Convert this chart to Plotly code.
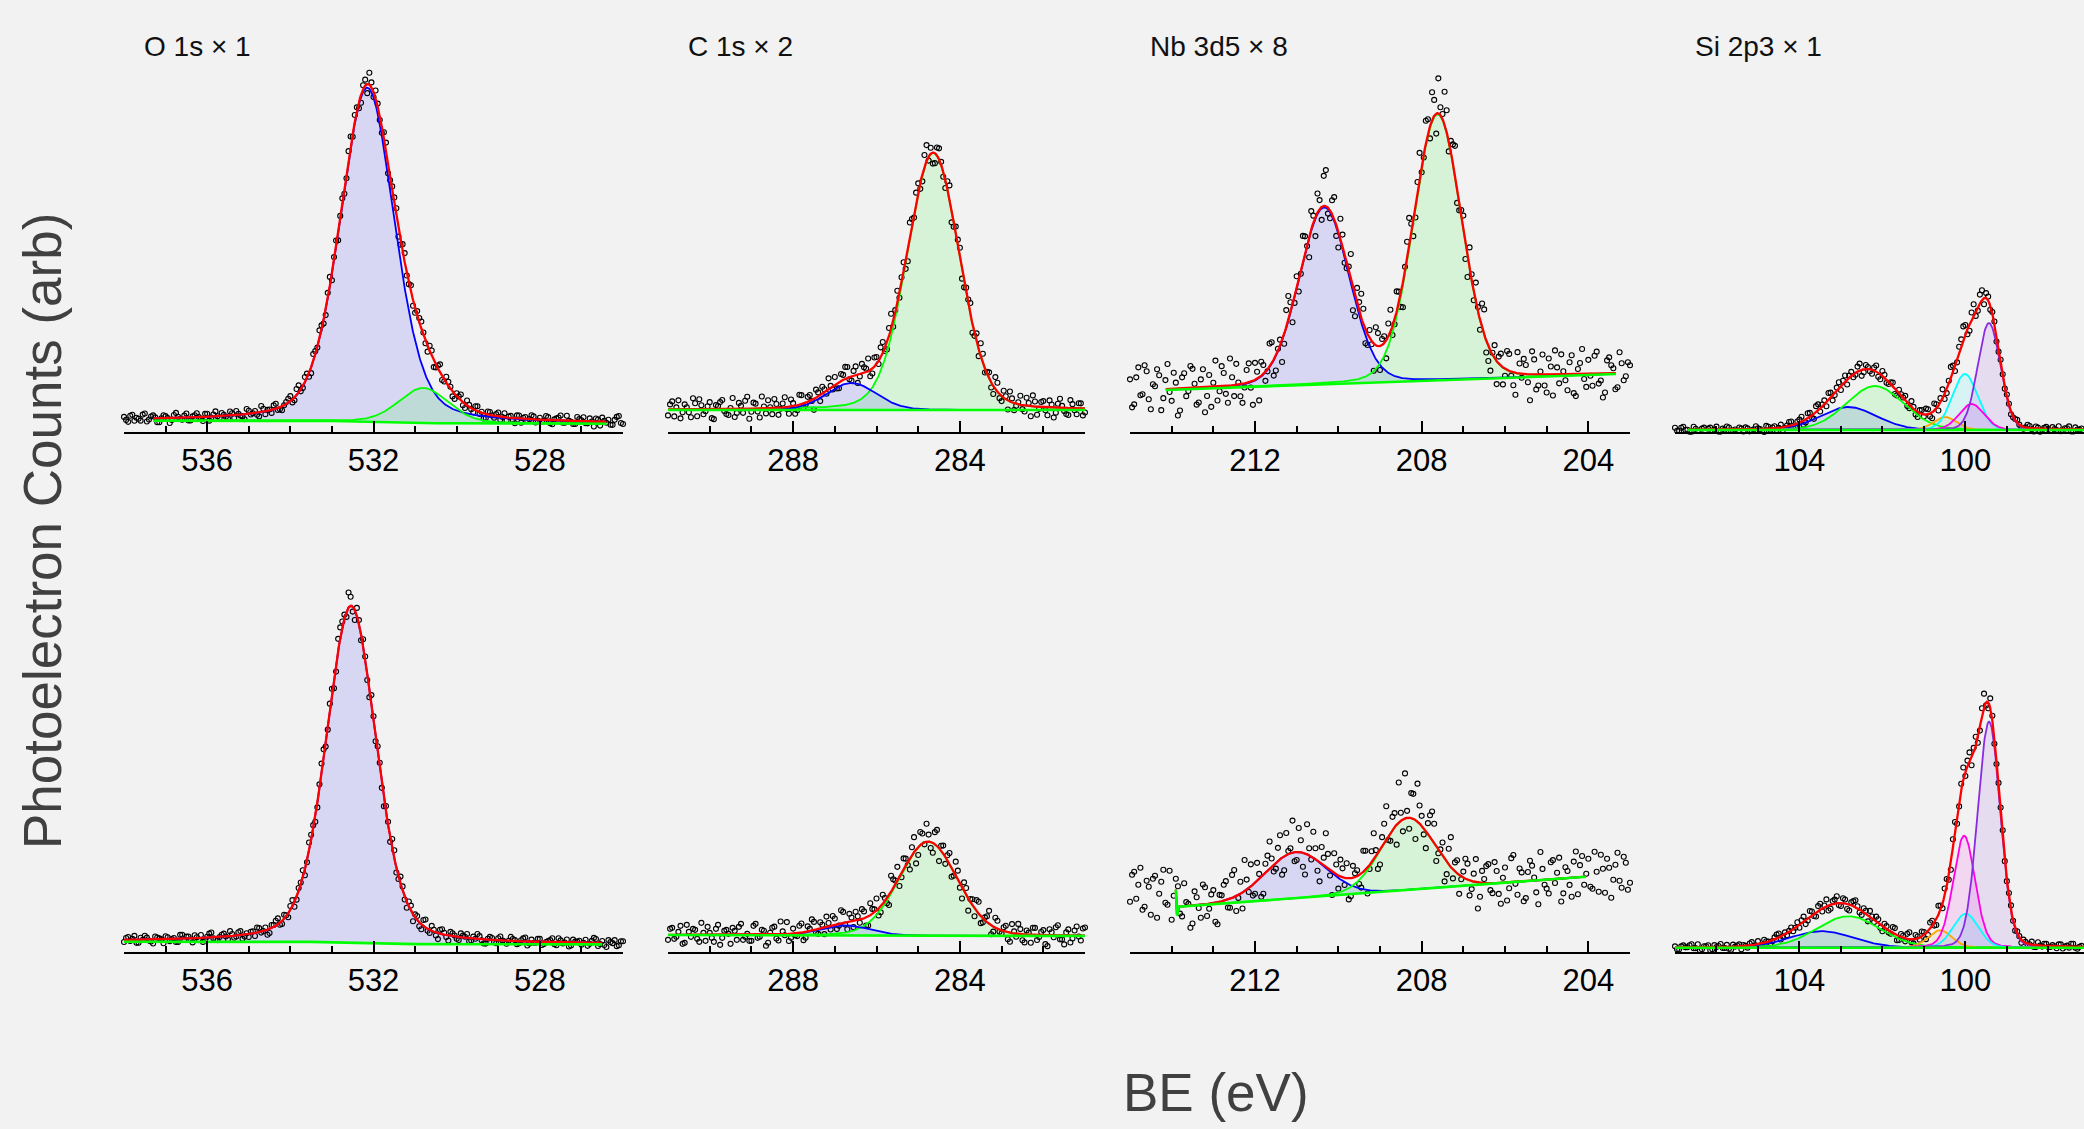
import numpy as np
import plotly.graph_objects as go

# ------------------------------------------------------------------ data
titles = ["O 1s × 1", "C 1s × 2", "Nb 3d5 × 8", "Si 2p3 × 1"]
x_ranges = [(538.0, 526.0), (291.0, 281.0), (215.0, 203.0), (107.0, 97.14)]
step = 0.1   # spacing of each list; the "_mid" lists sit half a step later

# ---- top row ----
O1_center = [532.15, 530.80]
O1_height = [334, 35]
O1_fwhm = [1.55, 1.40]
O1_eta = [0.30, 0.20]
O1_colors = ["blue", "lime"]
O1_bg_E = [537.3, 533.0, 530.5, 526.4]
O1_bg_I = [11.3, 11.0, 8.8, 8.3]
O1_start = 538.0
O1_resid = [2, -3, 4, 1, -2, 5, -1, 3, -4, 0,
            2, -5, 3, 1, -2, 4, -3, 2, 0, -4,
            3, -1, 5, -2, 1, -3, 2, 4, -1, -5,
            3, 0, -2, 6, -3, 1, 4, -2, -4, 2,
            5, -3, 7, -2, 4, -6, 3, 8, -4, 5,
            -7, 6, 2, -5, 9, -3, 4, -8, 6, 12,
            -5, 3, -6, 8, -4, 5, -9, 7, -3, 6,
            -5, 4, 2, -6, 5, -3, 8, -2, 4, -5,
            3, 6, -4, 2, -3, 5, 1, -4, 3, -2,
            4, 0, -3, 2, -5, 3, 1, -2, 4, -3,
            2, -1, 3, -4, 2, 5, -2, 0, -3, 4,
            1, -2, 3, -5, 2, 4, -1, -3, 2, 6,
            -2]
O1_resid_mid = [-1, 3, -2, 0, 4, -3, 2, 1, -4, 3,
                0, -2, 5, -1, 2, -3, 1, 4, -2, 3,
                -4, 2, 0, 3, -1, 4, -3, 1, -2, 5,
                -1, 2, -4, 3, 1, -3, 5, -2, 0, 4,
                -3, 6, -2, 5, -4, 7, -1, 4, -6, 9,
                3, -8, 5, -4, 10, 7, -6, 4, -9, 5,
                8, -4, 6, -10, 3, 7, -5, 9, -2, -6,
                4, 7, -3, 5, -7, 3, -4, 6, 2, -5,
                2, -3, 5, -1, 4, -2, -5, 3, 0, 2,
                -3, 4, 1, -2, 3, -4, 2, 0, 3, -1,
                -2, 4, -3, 1, 3, -2, 5, -1, -3, 2,
                4, -2, 0, 3, -4, 1, 2, -3, 5, -1]

C1_center = [284.64, 286.60]
C1_height = [257, 27]
C1_fwhm = [1.48, 1.40]
C1_eta = [0.15, 0.10]
C1_colors = ["lime", "blue"]
C1_bg_E = [291.0, 281.0]
C1_bg_I = [22, 22]
C1_start = 291.0
C1_resid = [-6, 8, 2, -9, 5, -3, 11, -7, 4, -2,
            7, -10, 3, 9, -5, 1, -8, 6, -4, 12,
            -3, 5, -9, 2, 8, -6, 4, -1, 10, -7,
            3, -5, 9, -2, 6, -11, 4, 7, -3, 2,
            8, -6, 5, 11, -4, 9, -2, 6, 13, -5,
            7, 10, -3, 8, -6, 12, 5, -9, 14, -4,
            9, -7, 16, 6, -10, 11, -5, 8, -12, 7,
            10, -6, 4, -9, 8, 13, -4, 6, -8, 9,
            -5, 3, 10, -7, 2, -4, 8, -10, 5, -2,
            6, -8, 3, -5, 9, -3, -7, 4, -6, 5,
            -4]
C1_resid_mid = [5, -7, 9, -3, 2, -8, 6, 10, -5, 3,
                -9, 4, 7, -2, -6, 11, -4, 3, 8, -10,
                6, -3, 12, -5, 1, 9, -7, 4, -2, 7,
                -8, 10, -4, 5, -1, 8, -6, 3, 11, -3,
                -5, 7, 12, -2, 5, -8, 10, 4, -6, 9,
                -3, 11, -7, 15, 2, -5, 9, -13, 6, 10,
                -6, 12, -4, -11, 8, 3, -8, 14, -5, 6,
                -9, 5, 11, -3, -7, 9, 2, -5, 12, -4,
                7, -9, 4, -2, 9, -6, 3, 11, -8, 5,
                -3, 7, -10, 4, 2, -6, 8, -2, 5, -7]

Nb1_center = [210.34, 207.62]
Nb1_height = [177, 266]
Nb1_fwhm = [1.42, 1.36]
Nb1_eta = [0.10, 0.10]
Nb1_colors = ["blue", "lime"]
Nb1_bg_E = [214.14, 203.34]
Nb1_bg_I = [42, 58]
Nb1_start = 215.0
Nb1_resid = [10, -15, 22, -5, 18, -20, 3, 14, -9, 25,
             -12, 6, -22, 15, -3, 19, -17, 8, -25, 12,
             4, -14, 20, -8, 27, -11, 2, -19, 13, -6,
             17, -23, 9, -2, 21, -15, 6, -10, 24, -18,
             11, -4, 16, -21, 7, 19, -13, 36, -8, 22,
             -16, 12, -5, 26, -20, 9, 15, -11, -3, 18,
             -24, 7, 13, -9, 20, -14, 4, 28, -17, 10,
             -6, 23, -12, 16, 35, 5, 22, 11, 30, -8,
             14, -21, 6, 19, -10, 25, -15, 2, -23, 12,
             -7, 17, -13, 21, -4, 9, -26, 15, -11, 20,
             -18, 8, 24, -9, 3, -16, 19, -22, 11, -5,
             14, -12, 22, -7, -19, 16, 5, -14, 10, -3,
             8]
Nb1_resid_mid = [-18, 12, -6, 24, -10, 5, 20, -21, 9, -3,
                 16, -27, 11, -8, 22, 4, -15, 18, -9, -20,
                 26, -5, 13, -17, 8, 21, -12, -4, 19, -24,
                 7, 14, -9, 23, -16, 2, -22, 17, 10, -7,
                 -13, 25, -2, 18, -19, 9, 30, -6, 14, -11,
                 20, -8, 5, -22, 16, 24, -14, 8, -27, 13,
                 6, -18, 22, -5, 11, -25, 17, 9, -12, 26,
                 -3, 15, 28, -20, 8, 33, -10, 19, -14, 6,
                 -16, 21, -9, 4, 24, -12, -20, 13, 7, -17,
                 19, -4, -22, 10, 15, -8, 23, -15, 3, -11,
                 16, -21, 7, 20, -6, 12, -19, 5, 25, -13,
                 -2, 18, -10, -24, 13, 8, -16, 21, -7, 11]

Si1_center = [102.82, 102.18, 100.49, 100.01, 99.85, 99.43]
Si1_height = [23, 44, 13, 56, 26, 107]
Si1_fwhm = [1.60, 1.62, 0.65, 0.72, 0.72, 0.64]
Si1_eta = [0.10, 0.10, 0.10, 0.10, 0.10, 0.10]
Si1_colors = ["blue", "lime", "orange", "cyan", "magenta", "blueviolet"]
Si1_bg_E = [106.7, 95.0]
Si1_bg_I = [2, 2]
Si1_start = 107.0
Si1_resid = [2, -1, 3, 0, -2, 1, -3, 2, 1, -1,
             3, -2, 0, 2, -1, -3, 1, 2, -2, 0,
             1, -2, 3, -1, 2, 0, -3, 1, 4, -2,
             3, -4, 5, -2, 6, -3, 4, 7, -5, 3,
             -4, 6, 2, -3, 5, -6, 4, -2, 3, -4,
             5, -3, 2, -5, 4, 1, -3, 6, -4, 3,
             -2, 5, -6, 4, 4, -5, 3, 6, -4, 6,
             9, -6, 12, -3, 10, 5, -4, 3, -2, 1,
             2, -3, 1, 0, -2, 3, -1, 2, -3, 1,
             0, 2, -1, -2, 1, 3, -2, 0, 1]
Si1_resid_mid = [-1, 2, 0, -2, 3, -1, 1, -3, 2, 0,
                 -2, 1, 3, -1, 0, 2, -2, 1, -1, 3,
                 0, -3, 2, 1, -2, 3, -1, 4, -3, 2,
                 5, -3, 4, -5, 6, 2, -4, 5, -2, 6,
                 3, -5, 4, -2, 7, -3, 2, -4, 6, -5,
                 3, -2, 4, -4, 2, 5, -3, 2, -5, 4,
                 6, -3, 7, -5, 9, -4, 11, -6, 5, 13,
                 -5, 8, -4, 9, -6, 4, 2, -5, 3, -2,
                 1, -1, 3, -2, 0, 2, -3, 1, -1, 2,
                 -2, 0, 3, -1, 1, -2, 2, 0]

# ---- bottom row ----
O2_center = [532.54]
O2_height = [337]
O2_fwhm = [1.42]
O2_eta = [0.30]
O2_colors = ["blue"]
O2_bg_E = [538.0, 533.5, 531.0, 526.5]
O2_bg_I = [10.0, 9.8, 7.6, 7.3]
O2_start = 538.0
O2_resid = [-2, 3, 1, -3, 2, 4, -1, -4, 2, 0,
            3, -2, 1, -3, 4, 2, -1, 3, -2, -4,
            1, 5, -2, 0, 3, -3, 2, -1, 4, -2,
            -3, 2, 5, -1, 3, -4, 2, 6, -3, 1,
            4, -5, 3, 7, -2, 5, -6, 4, 9, -3,
            6, -7, 11, 4, 15, -5, 8, -6, 3, -8,
            5, 7, -4, 6, -5, 8, -3, 4, -6, 5,
            3, -4, 6, -2, 5, -3, 4, 2, -5, 3,
            -2, 4, 1, -3, 2, 5, -1, -4, 3, -2,
            2, 0, -3, 4, 1, -2, 3, -4, 2, -1,
            3, -2, 1, 4, -3, 2, 0, -4, 3, 1,
            -2, 3, -1, 5, -3, 2, -4, 1, 3, -2,
            2]
O2_resid_mid = [2, -1, 4, -3, 0, 2, -2, 3, 1, -4,
                2, 0, -3, 4, -1, 2, -4, 1, 3, -2,
                4, -1, -3, 2, 0, 5, -2, 3, -4, 1,
                2, -3, 4, 0, -5, 3, 5, -2, 4, -4,
                6, -3, 2, -6, 8, 3, -5, 10, -4, 7,
                -9, 12, 6, -5, 9, -10, 4, 7, -6, 10,
                -4, 6, -8, 3, 9, -5, 7, -3, 5, -7,
                4, -5, 8, -3, 2, -6, 5, -2, 4, 1,
                -3, 2, 4, -2, 0, 3, -4, 1, 2, -3,
                4, -1, 0, 2, -3, 1, 4, -2, -1, 3,
                -3, 0, 2, -2, 4, -1, 3, -3, 1, 2,
                0, -3, 2, 4, -1, -2, 3, 0, -3, 2]

C2_center = [284.76, 286.76]
C2_height = [94, 10]
C2_fwhm = [1.65, 1.40]
C2_eta = [0.10, 0.0]
C2_colors = ["lime", "blue"]
C2_bg_E = [291.0, 281.0]
C2_bg_I = [16.7, 15.7]
C2_start = 291.0
C2_resid = [-5, 7, -2, 9, -8, 3, 6, -4, 12, -6,
            2, -7, 10, -3, 5, -9, 4, 8, -5, 1,
            -6, 11, -2, 4, -8, 7, -4, 13, -1, -7,
            5, -3, 9, -6, 2, 8, -5, 3, 10, -4,
            6, -2, 11, -7, 4, 9, -3, 7, -9, 5,
            12, -6, 3, -10, 9, 14, -4, 7, -11, 15,
            -8, 10, 18, -6, 12, -13, 8, 5, -9, 14,
            -4, 9, -12, 6, 11, -7, 3, 13, -5, 8,
            -3, 6, -9, 2, 10, -6, 4, -8, 7, -2,
            5, -11, 3, 8, -4, -9, 6, -3, 9, -5,
            8]
C2_resid_mid = [6, -4, 3, -9, 10, -2, 5, -7, 2, 8,
                -3, 6, -10, 4, 1, 7, -5, 11, -2, -6,
                9, -3, 5, -11, 2, 8, -6, 3, 12, -4,
                -2, 7, -8, 5, 11, -3, 6, -7, 3, 9,
                -5, 13, -2, 8, -6, 4, 10, -8, 12, 3,
                -7, 9, -5, 16, 4, -9, 11, -3, 8, -14,
                13, -2, 7, -10, 16, 5, -7, 11, -4, 9,
                -11, 7, 3, -8, 12, -4, 6, -9, 10, -2,
                4, -7, 9, -3, 5, -8, 2, 7, -5, 3,
                -9, 6, -2, 10, -4, 3, -7, 5, -1, 7]

Nb2_center = [211.02, 208.33]
Nb2_height = [46, 72]
Nb2_fwhm = [1.70, 1.50]
Nb2_eta = [0.0, 0.0]
Nb2_colors = ["blue", "lime"]
Nb2_bg_E = [213.90, 213.87, 213.83, 204.06]
Nb2_bg_I = [62, 36, 45, 75]
Nb2_start = 215.0
Nb2_resid = [-12, 18, 5, -20, 9, -25, 14, -4, 20, -15,
             -30, 11, -7, 23, 2, -18, 8, -13, 17, -5,
             13, -22, 6, 19, -9, 27, -3, -16, 10, 22,
             -11, 5, -19, 15, 8, -6, 24, -14, 3, 32,
             -8, 12, -21, 7, 26, -10, 17, 34, -5, 20,
             -13, 9, 15, -18, 4, -9, 21, -26, 11, 6,
             -15, 19, -4, 13, -20, 8, 45, -11, 25, 38,
             10, -17, 22, 20, -3, 14, -12, 30, 9, -19,
             6, 16, -8, 23, -14, 4, 19, -10, 12, -21,
             15, -6, 27, -13, 9, -17, 20, 3, -24, 11,
             -9, 17, -4, 21, -15, 7, -19, 26, 12, -8,
             18, -12, 5, 22, -16, 9, -3, 24, -11, 14,
             -6]
Nb2_resid_mid = [15, -9, 22, -17, 3, 11, -28, 8, -13, 19,
                 -6, 25, -10, 4, -22, 14, -3, 20, -12, 9,
                 -19, 7, 16, -8, 23, -15, 12, 31, -4, -11,
                 18, -20, 9, 27, -7, 13, -17, 22, 5, -9,
                 24, -14, 30, -3, 11, -19, 8, 15, -23, 10,
                 17, -7, -21, 12, 6, -14, 19, -4, 26, -16,
                 9, 33, -8, 14, 40, -12, 7, 25, -19, 18,
                 -6, 11, 29, -14, 4, -22, 16, -9, 13, -3,
                 20, -15, 8, -26, 12, 17, -7, 21, -11, 5,
                 -18, 24, -2, 13, -20, 9, 15, -12, 28, -5,
                 -14, 19, 6, -23, 11, -7, 16, -17, 21, 3,
                 -10, 25, -15, 8, 18, -21, 12, -4, 20, -13]

Si2_center = [103.47, 102.82, 100.61, 100.03, 99.99, 99.43]
Si2_height = [16.5, 31.5, 17.5, 112, 34, 226]
Si2_fwhm = [1.80, 1.80, 0.68, 0.62, 0.72, 0.64]
Si2_eta = [0.10, 0.10, 0.10, 0.15, 0.10, 0.10]
Si2_colors = ["blue", "lime", "orange", "magenta", "cyan", "blueviolet"]
Si2_bg_E = [107.0, 95.0]
Si2_bg_I = [4, 4]
Si2_start = 107.0
Si2_resid = [1, -2, 2, 0, 3, -1, -3, 1, 2, -2,
             0, 3, -1, -2, 2, 1, -3, 0, 2, -1,
             3, -2, 1, -3, 2, 4, -1, -2, 3, 0,
             -3, 5, -2, 4, -4, 6, 2, -5, 3, 7,
             -3, 4, -6, 5, 2, -4, 3, 6, -2, 4,
             -5, 3, -2, 6, -4, 2, 5, -3, 4, -2,
             3, -4, 5, -6, 4, 7, -5, 8, -7, 6,
             -4, 10, 5, -6, 8, -3, 10, -5, 3, 6,
             -2, 4, -3, 1, 2, -1, 3, -2, 0, 2,
             -1, 1, -2, 2, 0, -1, 3, -2, 1]
Si2_resid_mid = [-2, 1, 0, 2, -1, 3, -2, 1, -3, 2,
                 1, -1, 2, -3, 0, 2, 1, -2, 3, -1,
                 -2, 3, 0, -1, 4, -3, 2, 1, -2, 4,
                 3, -4, 6, -2, 5, -3, 7, -4, 4, -2,
                 5, -5, 3, 7, -3, 4, -6, 2, 5, -3,
                 4, -2, 6, -5, 3, -3, 7, -4, 2, 5,
                 -6, 6, -3, 9, -5, 7, -8, 10, -4, 12,
                 6, -7, 9, -4, 14, -6, 5, -3, 4, -2,
                 3, -1, 2, -3, 1, 0, -2, 3, -1, 2,
                 -1, 0, 2, -2, 1, 3, -1, 0]

panels = [
    (O1_center, O1_height, O1_fwhm, O1_eta, O1_colors, O1_bg_E, O1_bg_I, O1_start, O1_resid, O1_resid_mid),
    (C1_center, C1_height, C1_fwhm, C1_eta, C1_colors, C1_bg_E, C1_bg_I, C1_start, C1_resid, C1_resid_mid),
    (Nb1_center, Nb1_height, Nb1_fwhm, Nb1_eta, Nb1_colors, Nb1_bg_E, Nb1_bg_I, Nb1_start, Nb1_resid, Nb1_resid_mid),
    (Si1_center, Si1_height, Si1_fwhm, Si1_eta, Si1_colors, Si1_bg_E, Si1_bg_I, Si1_start, Si1_resid, Si1_resid_mid),
    (O2_center, O2_height, O2_fwhm, O2_eta, O2_colors, O2_bg_E, O2_bg_I, O2_start, O2_resid, O2_resid_mid),
    (C2_center, C2_height, C2_fwhm, C2_eta, C2_colors, C2_bg_E, C2_bg_I, C2_start, C2_resid, C2_resid_mid),
    (Nb2_center, Nb2_height, Nb2_fwhm, Nb2_eta, Nb2_colors, Nb2_bg_E, Nb2_bg_I, Nb2_start, Nb2_resid, Nb2_resid_mid),
    (Si2_center, Si2_height, Si2_fwhm, Si2_eta, Si2_colors, Si2_bg_E, Si2_bg_I, Si2_start, Si2_resid, Si2_resid_mid),
]

# ------------------------------------------------------------------ styling / layout
W, H = 2084, 1129
BG = "#f2f2f2"
FONT = "Liberation Sans, Arial, Helvetica, sans-serif"
RGB = {"blue": (0, 0, 255), "lime": (0, 255, 0), "orange": (255, 165, 0),
       "cyan": (0, 255, 255), "magenta": (255, 0, 230), "blueviolet": (138, 43, 226)}

col_px = [(124, 623), (668, 1085), (1130, 1630), (1675, W)]
row_px = [(42, 432), (561.7, 951.7)]   # (top, axis line) in pixels
y_span = 390


def pvoigt(E, c, a, w, eta):
    u = (E - c) / w
    return a * ((1 - eta) * np.exp(-4 * np.log(2) * u ** 2) + eta / (1 + 4 * u ** 2))


def model(E, bgE_s, bgI_s, cen, hgt, fw, eta):
    bg = np.interp(E, bgE_s, bgI_s)
    return bg, [pvoigt(E, c, a, w, e) for c, a, w, e in zip(cen, hgt, fw, eta)]


fig = go.Figure()
layout_axes = {}

for k, (cen, hgt, fw, eta, cols, bgE, bgI, start, resid, resid_mid) in enumerate(panels):
    row, col = divmod(k, 4)
    idx = k + 1
    xa = "x" if idx == 1 else f"x{idx}"
    ya = "y" if idx == 1 else f"y{idx}"

    bgE_a = np.array(bgE, dtype=float)
    bgI_a = np.array(bgI, dtype=float)
    order = np.argsort(bgE_a)
    bgE_s, bgI_s = bgE_a[order], bgI_a[order]

    Ef = np.linspace(bgE_a.max(), bgE_a.min(), 700)
    bgf, comps = model(Ef, bgE_s, bgI_s, cen, hgt, fw, eta)
    env = bgf + np.sum(comps, axis=0)

    # measured points (two interleaved lists, offset by half a step)
    Ea = start - step * np.arange(len(resid))
    Eb = start - step / 2 - step * np.arange(len(resid_mid))
    Ed = np.concatenate([Ea, Eb])
    bgd, cd = model(Ed, bgE_s, bgI_s, cen, hgt, fw, eta)
    Id = bgd + np.sum(cd, axis=0) + np.array(list(resid) + list(resid_mid), dtype=float)

    # component fills
    for comp, cname in zip(comps, cols):
        r, g, b = RGB[cname]
        fig.add_trace(go.Scatter(
            x=np.concatenate([Ef, Ef[::-1]]), y=np.concatenate([bgf + comp, bgf[::-1]]),
            fill="toself", fillcolor=f"rgba({r},{g},{b},0.11)", line=dict(width=0),
            mode="lines", hoverinfo="skip", showlegend=False, xaxis=xa, yaxis=ya))
    # data points
    fig.add_trace(go.Scatter(
        x=Ed, y=Id, mode="markers", cliponaxis=False,
        marker=dict(symbol="circle-open", size=5, color="black", line=dict(width=1.1)),
        showlegend=False, xaxis=xa, yaxis=ya))
    # component lines
    for comp, cname in zip(comps, cols):
        r, g, b = RGB[cname]
        fig.add_trace(go.Scatter(
            x=Ef, y=bgf + comp, mode="lines", line=dict(color=f"rgb({r},{g},{b})", width=1.8),
            hoverinfo="skip", showlegend=False, xaxis=xa, yaxis=ya))
    # envelope
    fig.add_trace(go.Scatter(
        x=Ef, y=env, mode="lines", line=dict(color="red", width=2.3),
        hoverinfo="skip", showlegend=False, xaxis=xa, yaxis=ya))
    # background
    fig.add_trace(go.Scatter(
        x=bgE, y=bgI, mode="lines", line=dict(color="rgb(0,255,0)", width=2.6),
        hoverinfo="skip", showlegend=False, xaxis=xa, yaxis=ya))

    x0, x1 = col_px[col]
    ytop, ybot = row_px[row]
    hi, lo = x_ranges[col]
    layout_axes["xaxis" if idx == 1 else f"xaxis{idx}"] = dict(
        domain=[x0 / W, x1 / W], anchor=ya, range=[hi, lo],
        showgrid=False, zeroline=False, showline=True, linecolor="black", linewidth=2,
        tickmode="linear", tick0=0, dtick=4, ticks="inside", ticklen=11, tickwidth=2,
        tickcolor="black",
        minor=dict(dtick=1, tick0=0, ticks="inside", ticklen=6, tickwidth=1.6, tickcolor="black"),
        tickfont=dict(family=FONT, size=31, color="black"))
    layout_axes["yaxis" if idx == 1 else f"yaxis{idx}"] = dict(
        domain=[1 - ybot / H, 1 - ytop / H], anchor=xa, range=[0, y_span], visible=False)

annotations = []
for col, t in enumerate(titles):
    annotations.append(dict(text=t, xref="paper", yref="paper", x=(col_px[col][0] + 18) / W,
                            y=1 - 46 / H, xanchor="left", yanchor="middle", showarrow=False,
                            font=dict(family=FONT, size=28, color="#111111")))
annotations.append(dict(text="Photoelectron Counts (arb)", xref="paper", yref="paper",
                        x=42 / W, y=1 - 531 / H, textangle=-90, showarrow=False,
                        xanchor="center", yanchor="middle",
                        font=dict(family=FONT, size=53, color="#404040")))
annotations.append(dict(text="BE (eV)", xref="paper", yref="paper",
                        x=1216 / W, y=1 - 1092 / H, showarrow=False,
                        xanchor="center", yanchor="middle",
                        font=dict(family=FONT, size=53, color="#404040")))

fig.update_layout(width=W, height=H, margin=dict(l=0, r=0, t=0, b=0),
                  paper_bgcolor=BG, plot_bgcolor=BG, showlegend=False,
                  annotations=annotations, **layout_axes)

fig.write_html("out.html")
